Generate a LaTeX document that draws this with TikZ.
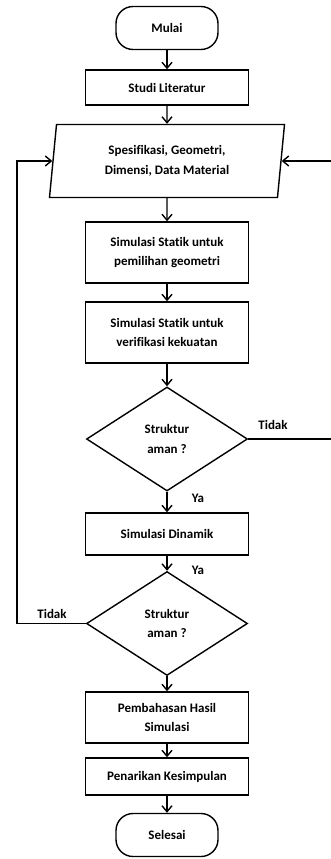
\documentclass[tikz,border=0pt]{standalone}
\usepackage{fontspec}
\setmainfont[Ligatures=NoCommon]{Carlito}
\usepackage{tikz}
\usetikzlibrary{shapes.geometric,arrows.meta}

\begin{document}
\begin{tikzpicture}[x=1pt,y=-1pt,line width=1.4pt,>={Straight Barb[length=6pt,width=10pt]}]
        \tikzstyle{every node}=[font=\fontsize{13}{19.5}\selectfont\bfseries]
        \tikzstyle{term}=[draw,rectangle,rounded corners=17pt,minimum width=102pt,minimum height=43pt,inner sep=0pt]
        \tikzstyle{proc}=[draw,rectangle,align=center,minimum width=163pt,inner sep=0pt]
        \tikzstyle{io}=[draw,trapezium,trapezium left angle=77,trapezium right angle=103,trapezium stretches body,minimum width=235pt,minimum height=73pt,align=center,inner sep=0pt]
        \tikzstyle{decide}=[draw,diamond,minimum width=161pt,minimum height=104pt,align=center,inner sep=0pt]
        \useasboundingbox (0,0) rectangle (330,859);

        \node[term] (start) at (167,28) {Mulai};
        \node[proc,minimum height=35pt] (lit) at (167,87.5) {Studi Literatur};
        \node[io] (input) at (167,161) {Spesifikasi, Geometri,\\Dimensi, Data Material};
        \node[proc,minimum height=61pt] (sim1) at (167,252.5) {Simulasi Statik untuk\\pemilihan geometri};
        \node[proc,minimum height=61pt] (sim2) at (167,332.5) {Simulasi Statik untuk\\verifikasi kekuatan};
        \node[decide] (d1) at (167,439) {Struktur\\aman ?};
        \node[proc,minimum height=42pt] (dyn) at (167,534) {Simulasi Dinamik};
        \node[decide] (d2) at (167,623.5) {Struktur\\aman ?};
        \node[proc,minimum height=51pt] (disc) at (167,717.5) {Pembahasan Hasil\\Simulasi};
        \node[proc,minimum height=37pt] (concl) at (167,776.5) {Penarikan Kesimpulan};
        \node[term] (stop) at (167,835) {Selesai};

        \draw[->] (start) -- (lit);
        \draw[->] (lit) -- (input);
        \draw[->] (input) -- (sim1);
        \draw[->] (sim1) -- (sim2);
        \draw[->] (sim2) -- (d1);
        \draw[->] (d1) -- (dyn);
        \draw[->] (dyn) -- (d2);
        \draw[->] (d2) -- (disc);
        \draw[->] (disc) -- (concl);
        \draw[->] (concl) -- (stop);

        \draw[->] (d1.east) -- ++(83,0) |- (input.east);
        \draw[->] (d2.west) -- ++(-69,0) |- (input.west);

        \node (no1) at (273,425) {Tidak};
        \node (no2) at (52,614) {Tidak};
        \node (yes1) at (198,498) {Ya};
        \node (yes2) at (198,570) {Ya};
    \end{tikzpicture}
\end{document}
